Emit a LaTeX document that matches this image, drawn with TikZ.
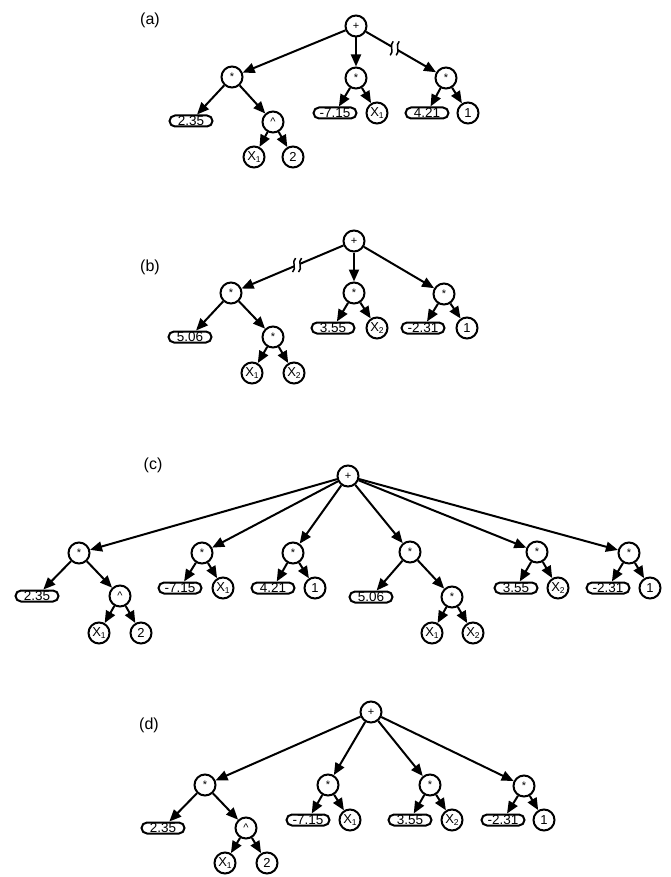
\documentclass[tikz,border=0pt]{standalone}
\usepackage{fontspec}
\setmainfont{Liberation Sans}
\usetikzlibrary{arrows.meta}
\newcommand\xsub[1]{X\raisebox{-0.35ex}{\fontsize{8.5}{8.5}\selectfont #1}}
\tikzset{
  opnode/.style={circle, draw, line width=2pt, minimum size=21pt, inner sep=0pt, font=\fontsize{11}{11}\selectfont},
  leafnode/.style={circle, draw, line width=2pt, minimum size=21pt, inner sep=0pt, font=\fontsize{13}{13}\selectfont},
  numnode/.style={rectangle, rounded corners=5.5pt, draw, line width=2pt, minimum width=43pt, minimum height=11pt, inner sep=0pt, font=\fontsize{13.5}{13.5}\selectfont},
  panellabel/.style={font=\fontsize{16}{16}\selectfont, inner sep=0pt},
  edge/.style={line width=2pt, -{Triangle[length=12pt,width=10pt]}},
  brk/.style={line width=1.5pt}
}
\begin{document}
\begin{tikzpicture}[x=1pt,y=-1pt]
\useasboundingbox (0,0) rectangle (671,877);
% ---------- (a)
\node[panellabel] (la) at (150,20) {(a)};
\node[opnode] (a0) at (356,26) {+};
\node[opnode] (a1) at (232,77) {*};
\node[opnode] (a2) at (356,78) {*};
\node[opnode] (a3) at (446,78) {*};
\node[numnode] (a11) at (191,121) {2.35};
\node[opnode] (a12) at (273,122) {\textasciicircum};
\node[leafnode] (a121) at (254,157) {\xsub{1}};
\node[leafnode] (a122) at (293,157) {2};
\node[numnode] (a21) at (335,113) {-7.15};
\node[leafnode] (a22) at (377,113) {\xsub{1}};
\node[numnode] (a31) at (427,113) {4.21};
\node[leafnode] (a32) at (468,113) {1};
% ---------- (b)
\node[panellabel] (lb) at (150,267) {(b)};
\node[opnode] (b0) at (354,241) {+};
\node[opnode] (b1) at (231,293) {*};
\node[opnode] (b2) at (354,293) {*};
\node[opnode] (b3) at (444,294) {*};
\node[numnode] (b11) at (190,337) {5.06};
\node[opnode] (b12) at (273,337) {*};
\node[leafnode] (b121) at (252,373) {\xsub{1}};
\node[leafnode] (b122) at (294,373) {\xsub{2}};
\node[numnode] (b21) at (333,328) {3.55};
\node[leafnode] (b22) at (377,328) {\xsub{2}};
\node[numnode] (b31) at (423,328) {-2.31};
\node[leafnode] (b32) at (467,328) {1};
% ---------- (c)
\node[panellabel] (lc) at (153,465) {(c)};
\node[opnode] (c0) at (348,476) {+};
\node[opnode] (c1) at (79,553) {*};
\node[numnode] (c11) at (37,596) {2.35};
\node[opnode] (c12) at (120,596) {\textasciicircum};
\node[leafnode] (c121) at (99,633) {\xsub{1}};
\node[leafnode] (c122) at (141,633) {2};
\node[opnode] (c2) at (202,553) {*};
\node[numnode] (c21) at (180,588) {-7.15};
\node[leafnode] (c22) at (223,588) {\xsub{1}};
\node[opnode] (c3) at (293,553) {*};
\node[numnode] (c31) at (273,588) {4.21};
\node[leafnode] (c32) at (315,588) {1};
\node[opnode] (c4) at (410,552) {*};
\node[numnode] (c41) at (371,597) {5.06};
\node[opnode] (c42) at (452,597) {*};
\node[leafnode] (c421) at (432,633) {\xsub{1}};
\node[leafnode] (c422) at (473,633) {\xsub{2}};
\node[opnode] (c5) at (537,552) {*};
\node[numnode] (c51) at (516,588) {3.55};
\node[leafnode] (c52) at (558,588) {\xsub{2}};
\node[opnode] (c6) at (629,553) {*};
\node[numnode] (c61) at (608,588) {-2.31};
\node[leafnode] (c62) at (650,588) {1};
% ---------- (d)
\node[panellabel] (ld) at (149,725) {(d)};
\node[opnode] (d0) at (371,712) {+};
\node[opnode] (d1) at (205,785) {*};
\node[numnode] (d11) at (163,828) {2.35};
\node[opnode] (d12) at (246,828) {\textasciicircum};
\node[leafnode] (d121) at (225,863) {\xsub{1}};
\node[leafnode] (d122) at (267,863) {2};
\node[opnode] (d2) at (328,785) {*};
\node[numnode] (d21) at (308,820) {-7.15};
\node[leafnode] (d22) at (350,820) {\xsub{1}};
\node[opnode] (d3) at (430,785) {*};
\node[numnode] (d31) at (410,820) {3.55};
\node[leafnode] (d32) at (452,820) {\xsub{2}};
\node[opnode] (d4) at (524,786) {*};
\node[numnode] (d41) at (503,820) {-2.31};
\node[leafnode] (d42) at (544,820) {1};
% ---------- edges
\foreach \p/\c in {a0/a1,a0/a2,a0/a3,a1/a11,a1/a12,a12/a121,a12/a122,a2/a21,a2/a22,a3/a31,a3/a32,
  b0/b1,b0/b2,b0/b3,b1/b11,b1/b12,b12/b121,b12/b122,b2/b21,b2/b22,b3/b31,b3/b32,
  c0/c1,c0/c2,c0/c3,c0/c4,c0/c5,c0/c6,c1/c11,c1/c12,c12/c121,c12/c122,c2/c21,c2/c22,c3/c31,c3/c32,
  c4/c41,c4/c42,c42/c421,c42/c422,c5/c51,c5/c52,c6/c61,c6/c62,
  d0/d1,d0/d2,d0/d3,d0/d4,d1/d11,d1/d12,d12/d121,d12/d122,d2/d21,d2/d22,d3/d31,d3/d32,d4/d41,d4/d42}
  \draw[edge] (\p) -- (\c);
% ---------- break marks
\path (a0) -- (a3) coordinate[pos=0.41] (brkA);
\path (b0) -- (b1) coordinate[pos=0.455] (brkB);
\foreach \b in {brkA,brkB}{
  \begin{scope}[shift={(\b)}]
    \fill[white] (-2.6,-5) rectangle (2.6,5);
    \draw[brk] (-1.5,-7) .. controls (-6,-3) and (0,3) .. (-4.5,7);
    \draw[brk] (4.5,-7) .. controls (0,-3) and (6,3) .. (1.5,7);
  \end{scope}
}
\end{tikzpicture}
\end{document}
